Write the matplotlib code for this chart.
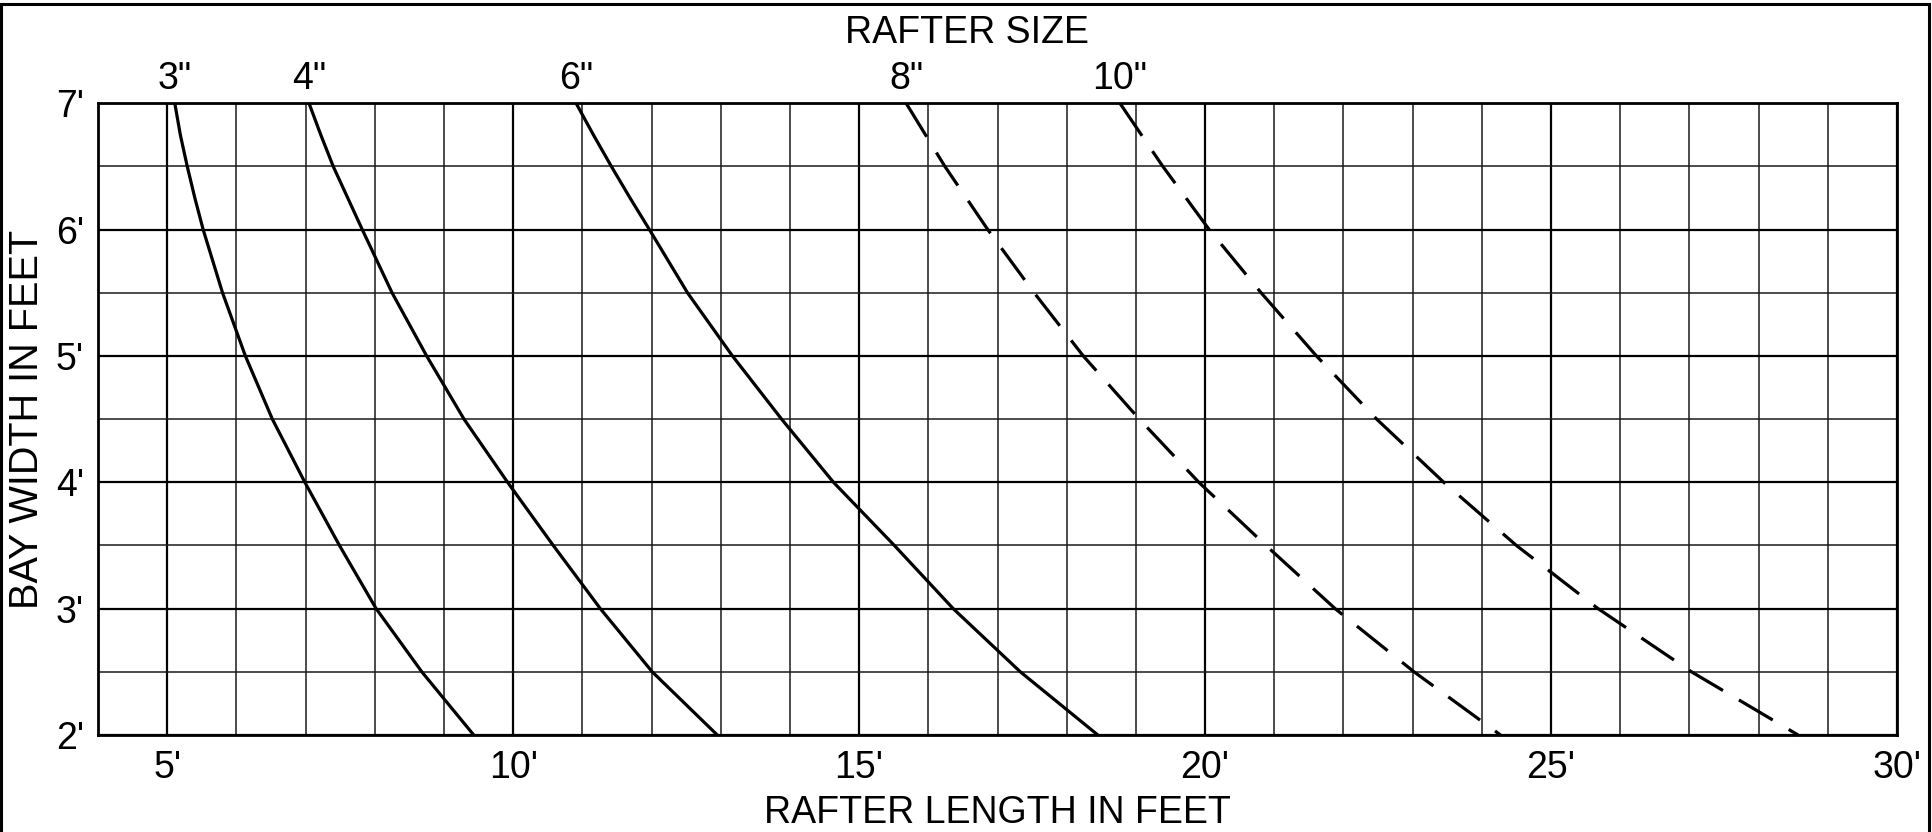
import matplotlib
matplotlib.use("Agg")
import matplotlib.pyplot as plt
from matplotlib.ticker import MultipleLocator, FixedLocator
from matplotlib.patches import Rectangle
from matplotlib.transforms import blended_transform_factory

# ---- data (bay width in feet -> rafter length in feet) ----
# solid curves were read at quarter-foot steps near the top where they bend most
bay_3in = [7.0, 6.75, 6.5, 6.25, 6.0, 5.5, 5.0, 4.5, 4.0, 3.5, 3.0, 2.5, 2.0]
len_3in = [5.11, 5.19, 5.29, 5.40, 5.52, 5.80, 6.13, 6.52, 6.99, 7.49, 8.02, 8.68, 9.43]

bay_4in = [7.0, 6.75, 6.5, 6.25, 6.0, 5.5, 5.0, 4.5, 4.0, 3.5, 3.0, 2.5, 2.0]
len_4in = [7.05, 7.22, 7.40, 7.61, 7.82, 8.25, 8.75, 9.29, 9.92, 10.58, 11.26, 12.01, 12.95]

bay_6in = [7.0, 6.75, 6.5, 6.25, 6.0, 5.5, 5.0, 4.5, 4.0, 3.5, 3.0, 2.5, 2.0]
len_6in = [10.91, 11.16, 11.42, 11.69, 11.97, 12.52, 13.17, 13.88, 14.63, 15.51, 16.36, 17.33, 18.45]

bay_8in = [7.0, 6.5, 6.0, 5.5, 5.0, 4.5, 4.0, 3.5, 3.0, 2.5, 2.0]
len_8in = [15.68, 16.24, 16.86, 17.53, 18.24, 19.05, 19.91, 20.88, 21.88, 23.02, 24.27]

bay_10in = [7.0, 6.5, 6.0, 5.5, 5.0, 4.5, 4.0, 3.5, 3.0, 2.5, 2.0]
len_10in = [18.77, 19.39, 20.06, 20.81, 21.61, 22.48, 23.45, 24.50, 25.68, 27.03, 28.57]

series = [
    ('3"', len_3in, bay_3in, "solid"),
    ('4"', len_4in, bay_4in, "solid"),
    ('6"', len_6in, bay_6in, "solid"),
    ('8"', len_8in, bay_8in, "dashed"),
    ('10"', len_10in, bay_10in, "dashed"),
]

x_ticks = [5, 10, 15, 20, 25, 30]
x_tick_labels = ["5'", "10'", "15'", "20'", "25'", "30'"]
y_ticks = [2, 3, 4, 5, 6, 7]
y_tick_labels = ["2'", "3'", "4'", "5'", "6'", "7'"]

FONT = "Liberation Sans"
FS = 27
plt.rcParams["font.family"] = [FONT, "DejaVu Sans"]

fig = plt.figure(figsize=(19.33, 8.32), dpi=100)
ax = fig.add_axes([98 / 1933, 1 - 735 / 832, (1897 - 98) / 1933, (735 - 103.3) / 832])

ax.set_xlim(4, 30)
ax.set_ylim(2, 7)

ax.xaxis.set_major_locator(FixedLocator(x_ticks))
ax.xaxis.set_minor_locator(MultipleLocator(1))
ax.yaxis.set_major_locator(FixedLocator(y_ticks))
ax.yaxis.set_minor_locator(MultipleLocator(0.5))
ax.set_xticklabels(x_tick_labels)
ax.set_yticklabels(y_tick_labels)
ax.tick_params(which="both", length=0)
ax.tick_params(axis="x", which="major", pad=11, labelsize=FS)
ax.tick_params(axis="y", which="major", pad=10, labelsize=FS)

ax.grid(which="major", color="#000000", linewidth=1.6)
ax.grid(which="minor", color="#1a1a1a", linewidth=1.1)
ax.set_axisbelow(True)
for s in ax.spines.values():
    s.set_linewidth(2.0)
    s.set_color("#000000")

dash_style = (0, (12.3, 5.8))
for label, xs, ys, style in series:
    ls = "-" if style == "solid" else dash_style
    ax.plot(xs, ys, color="black", linewidth=2.3, linestyle=ls,
            solid_capstyle="butt", dash_capstyle="butt",
            solid_joinstyle="round", clip_on=False)

trans = blended_transform_factory(ax.transData, ax.transAxes)
for label, xs, ys, style in series:
    ax.annotate(label, xy=(xs[0], 1.0), xycoords=trans, xytext=(0, 10.3),
                textcoords="offset points", ha="center", va="baseline",
                fontsize=FS, annotation_clip=False)

ax.set_xlabel("RAFTER LENGTH IN FEET", fontsize=FS, labelpad=6)
ax.set_ylabel("BAY WIDTH IN FEET", fontsize=28.5, labelpad=7)

fig.text(0.5, 1 - 43 / 832, "RAFTER SIZE", ha="center", va="baseline", fontsize=FS)

border = Rectangle((1 / 1933, -0.1), (1929 - 1) / 1933, 1.1 - 4 / 832,
                   transform=fig.transFigure, fill=False, edgecolor="black",
                   linewidth=2.2, clip_on=False)
fig.add_artist(border)

fig.savefig("out.png", dpi=100, facecolor="white")
